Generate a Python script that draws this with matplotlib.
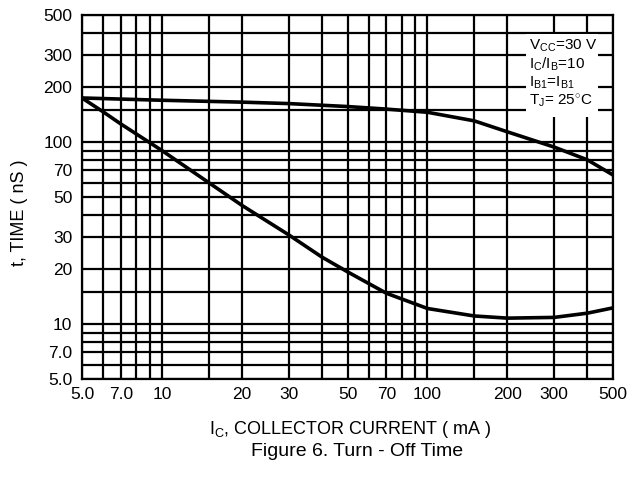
#! /usr/bin/python3
# turn-off time vs collector current, log-log datasheet style

import matplotlib
matplotlib.use('Agg')
import matplotlib.pyplot as plt
from matplotlib.patches import Rectangle
from matplotlib.ticker import FixedLocator, NullFormatter

plt.rcParams['font.family'] = ['Liberation Sans', 'DejaVu Sans']
plt.rcParams['mathtext.fontset'] = 'custom'
plt.rcParams['mathtext.rm'] = 'Liberation Sans'
plt.rcParams['mathtext.it'] = 'Liberation Sans:italic'

# storage time (upper) and fall time (lower), ns vs mA
ic_ts = [5, 10, 20, 30, 50, 70, 100, 150, 200, 300, 400, 500]
t_ts = [175, 170, 166, 163, 157, 152, 146, 131, 114, 94, 80, 66]

ic_tf = [5, 6, 7, 10, 15, 20, 30, 40, 50, 70, 100, 150, 200, 300, 400, 500]
t_tf = [175, 147, 126, 90, 60, 45, 31, 23.4, 19.4, 14.8, 12.2, 11.1, 10.8, 10.9, 11.5, 12.3]

x_labels = [5, 7, 10, 20, 30, 50, 70, 100, 200, 300, 500]
x_label_text = ['5.0', '7.0', '10', '20', '30', '50', '70', '100', '200', '300', '500']
x_minor = [6, 8, 9, 15, 40, 60, 80, 90, 150, 400]

y_labels = [5, 7, 10, 20, 30, 50, 70, 100, 200, 300, 500]
y_label_text = ['5.0', '7.0', '10', '20', '30', '50', '70', '100', '200', '300', '500']
y_minor = [6, 8, 9, 15, 40, 60, 80, 90, 150, 400]

conditions = [r'V$_{\mathrm{CC}}$=30 V',
              r'I$_{\mathrm{C}}$/I$_{\mathrm{B}}$=10',
              r'I$_{\mathrm{B1}}$=I$_{\mathrm{B1}}$',
              r'T$_{\mathrm{J}}$= 25$^{\circ}$C']

fig = plt.figure(figsize=(6.44, 4.83), dpi=100)
ax = fig.add_axes([0.1273, 0.2153, 0.8247, 0.7537])
ax.set_xscale('log')
ax.set_yscale('log')
ax.set_xlim(5, 500)
ax.set_ylim(5, 500)

ax.xaxis.set_major_locator(FixedLocator(x_labels))
ax.xaxis.set_minor_locator(FixedLocator(x_minor))
ax.yaxis.set_major_locator(FixedLocator(y_labels))
ax.yaxis.set_minor_locator(FixedLocator(y_minor))
ax.set_xticklabels(x_label_text)
ax.set_yticklabels(y_label_text)
ax.xaxis.set_minor_formatter(NullFormatter())
ax.yaxis.set_minor_formatter(NullFormatter())
ax.tick_params(which='both', length=0, labelsize=12.5, colors='black')
ax.tick_params(axis='x', pad=6)
ax.tick_params(axis='y', pad=7)

ax.grid(which='both', color='black', lw=1.6, zorder=1)
ax.set_axisbelow(True)
for s in ax.spines.values():
    s.set_linewidth(1.6)

# conditions box blanks out the grid underneath
ax.add_patch(Rectangle((0.836, 0.720), 0.136, 0.228, transform=ax.transAxes,
                       facecolor='white', edgecolor='none', zorder=2))
for i, txt in enumerate(conditions):
    ax.text(0.842, 0.915 - i * 0.05, txt, transform=ax.transAxes,
            fontsize=11, va='center', ha='left', zorder=4)

ax.plot(ic_ts, t_ts, color='black', lw=2.6, zorder=3, solid_capstyle='butt')
ax.plot(ic_tf, t_tf, color='black', lw=2.6, zorder=3, solid_capstyle='butt')

fig.text(20 / 644, 1 - 213 / 483, 't, TIME ( nS )', rotation=90,
         ha='center', va='center', fontsize=13)
fig.text(350 / 644, 1 - 430 / 483, r'I$_{\mathrm{C}}$, COLLECTOR CURRENT ( mA )',
         ha='center', va='center', fontsize=13)
fig.text(357 / 644, 1 - 452 / 483, 'Figure 6. Turn - Off Time',
         ha='center', va='center', fontsize=14)

fig.savefig('out.png', dpi=100)
